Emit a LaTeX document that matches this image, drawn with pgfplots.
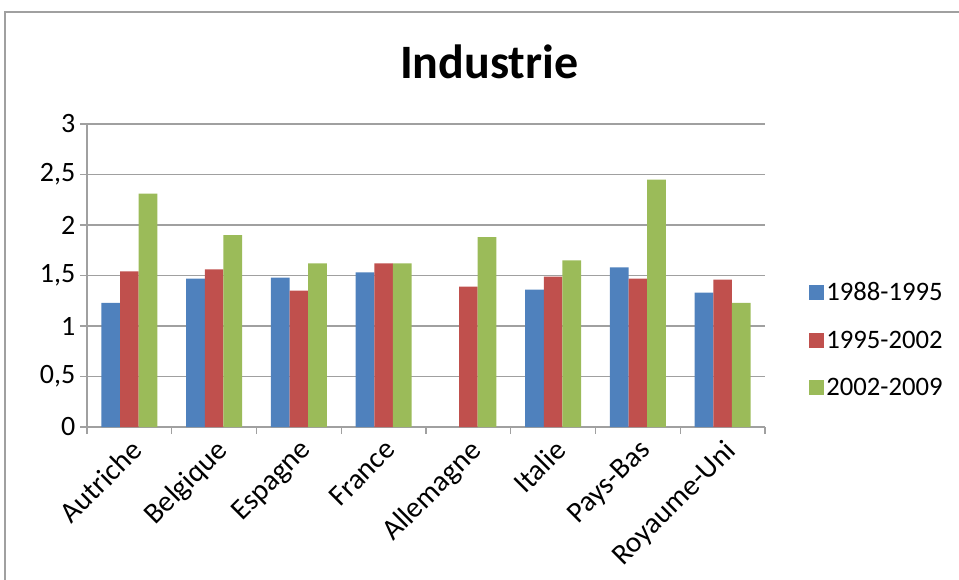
\documentclass[border=0pt]{standalone}
\usepackage{fontspec}
\setmainfont{Carlito}
\usepackage{pgfplots}
\pgfplotsset{compat=1.18}
\definecolor{s1}{HTML}{4F81BD}
\definecolor{s2}{HTML}{C0504D}
\definecolor{s3}{HTML}{9BBB59}
\definecolor{gridc}{HTML}{A0A0A0}
\begin{document}
\begin{tikzpicture}
\useasboundingbox (0,0) rectangle (719.25pt,-435pt);
% chart frame
\draw[gridc, line width=1.2pt] (3.75pt,-440pt) -- (3.75pt,-9pt) -- (725pt,-9pt);
% title
\node[font=\fontsize{36}{40}\selectfont\bfseries] at (367pt,-46.5pt) {Industrie};
\begin{axis}[
  at={(65.25pt,-320.25pt)}, anchor=south west,
  scale only axis, width=508.5pt, height=227.25pt,
  ymin=0, ymax=3, ytick={0,0.5,...,3},
  xmin=-0.5, xmax=7.5,
  xtick={-0.5,0.5,...,7.5},
  x tick label as interval,
  xticklabels={Autriche,Belgique,Espagne,France,Allemagne,Italie,Pays-Bas,Royaume-Uni},
  xticklabel style={rotate=45, anchor=north east, inner sep=2pt, font=\fontsize{22}{24}\selectfont},
  yticklabel style={font=\fontsize{21}{23}\selectfont, /pgf/number format/use comma, /pgf/number format/fixed},
  /pgf/number format/assume math mode=true,
  axis lines=left,
  axis line style={gridc, line width=1.1pt, -},
  tick align=outside,
  major tick length=5.25pt,
  tick style={gridc, line width=1pt},
  ymajorgrids,
  grid style={gridc, line width=1.1pt},
  ybar=0pt, bar width=14pt,
  legend style={draw=none, fill=none, at={(1.058,0.287)}, anchor=west,
    font=\fontsize{20}{22}\selectfont, row sep=17pt},
  legend cell align=left,
  legend image code/.code={\fill[#1] (-3pt,-5.6pt) rectangle (8.25pt,5.6pt);},
]
\addplot[fill=s1, draw=none] coordinates {
  (0,1.23) (1,1.47) (2,1.48) (3,1.53) (5,1.36) (6,1.58) (7,1.33)};
\addplot[fill=s2, draw=none] coordinates {
  (0,1.54) (1,1.56) (2,1.35) (3,1.62) (4,1.39) (5,1.49) (6,1.47) (7,1.46)};
\addplot[fill=s3, draw=none] coordinates {
  (0,2.31) (1,1.90) (2,1.62) (3,1.62) (4,1.88) (5,1.65) (6,2.45) (7,1.23)};
\legend{1988-1995,1995-2002,2002-2009}
\end{axis}
\end{tikzpicture}
\end{document}
